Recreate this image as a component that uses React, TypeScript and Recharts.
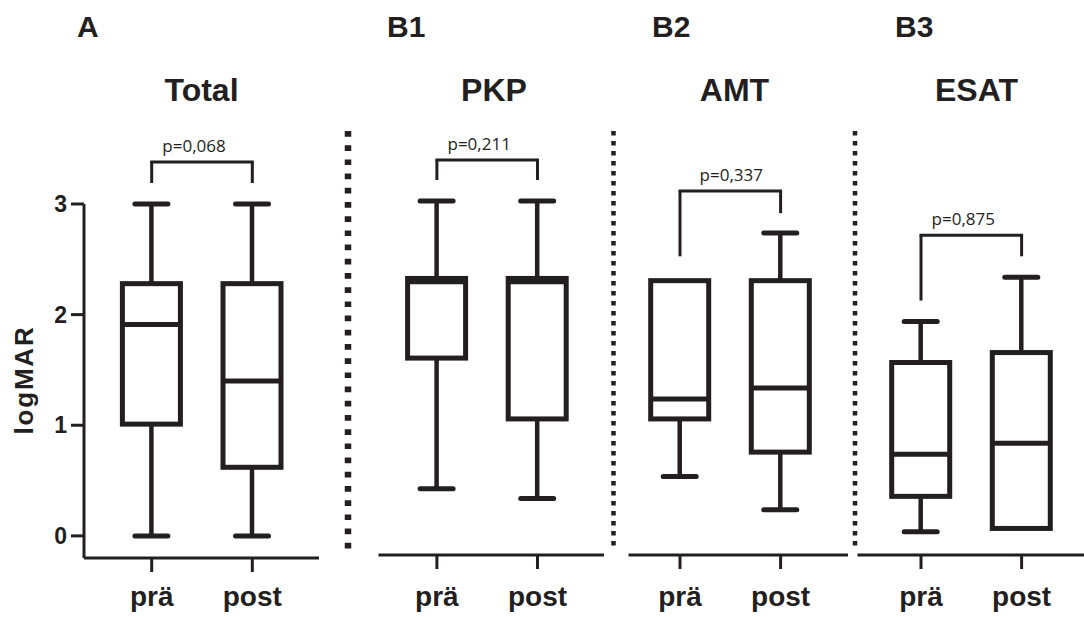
import { Bar, BarChart, ReferenceLine, XAxis, YAxis } from "recharts";

const INK = "#231f20";
const FONT = "'Liberation Sans', Arial, Helvetica, sans-serif";
const P_FONT = "'Open Sans', 'Noto Sans', sans-serif";

const categories = ["prä", "post"];
// five-number summaries per group: min, q1, median, q3, max (logMAR)
const totalPra = [0, 1.01, 1.91, 2.28, 3.0];
const totalPost = [0, 0.62, 1.4, 2.28, 3.0];
const pkpPra = [0.4, 1.58, 2.27, 2.3, 3.0];
const pkpPost = [0.31, 1.03, 2.27, 2.3, 3.0];
const amtPra = [0.51, 1.03, 1.21, 2.28, 2.28];
const amtPost = [0.21, 0.73, 1.31, 2.28, 2.71];
const esatPra = [0.01, 0.33, 0.71, 1.54, 1.91];
const esatPost = [0.04, 0.04, 0.81, 1.63, 2.31];

const panelLetters = ["A", "B1", "B2", "B3"];
const panelTitles = ["Total", "PKP", "AMT", "ESAT"];
const pValues = ["p=0,068", "p=0,211", "p=0,337", "p=0,875"];
const bracketTop = [3.38, 3.37, 3.09, 2.69];
const bracketPraEnd = [3.19, 3.19, 2.5, 2.1];
const bracketPostEnd = [3.19, 3.19, 2.89, 2.5];
const yTicks = [0, 1, 2, 3];
const Y_DOMAIN: [number, number] = [-0.2, 3];

const panelStats = [
  [totalPra, totalPost],
  [pkpPra, pkpPost],
  [amtPra, amtPost],
  [esatPra, esatPost],
];

// placement of each small chart on the page
const LAYOUT = [
  { left: 0, width: 330, top: 204, axisH: 59, mLeft: 0, mRight: 11, padL: 17.4, padR: 16.4, tickMargin: 14, showY: true, letterX: 77, titleX: 201.5, pDx: -8 },
  { left: 360, width: 250, top: 201, axisH: 62, mLeft: 18.5, mRight: 6, padL: 8.1, padR: 16.2, tickMargin: 17, showY: false, letterX: 387, titleX: 494, pDx: -8 },
  { left: 615, width: 240, top: 201, axisH: 62, mLeft: 13.5, mRight: 7, padL: 1.2, padR: 17.1, tickMargin: 17, showY: false, letterX: 652, titleX: 734.5, pDx: 1 },
  { left: 850, width: 234, top: 201, axisH: 62, mLeft: 7.5, mRight: 0, padL: 13.2, padR: 12.1, tickMargin: 17, showY: false, letterX: 895, titleX: 976.5, pDx: -8 },
];

const CHART_H = 617;
const BOX_W = 58;
const CAP_HALF = 16.5;

function BoxShape(props: any) {
  const { x, y, width, height, payload } = props;
  const [lo, q1, med, q3, hi] = payload.stats as number[];
  const k = height / (hi - lo);
  const py = (v: number) => y + (hi - v) * k;
  const cx = x + width / 2;
  return (
    <g>
      {hi > q3 && <line x1={cx} x2={cx} y1={py(hi)} y2={py(q3)} stroke={INK} strokeWidth={4.5} />}
      {lo < q1 && <line x1={cx} x2={cx} y1={py(q1)} y2={py(lo)} stroke={INK} strokeWidth={4.5} />}
      <rect x={x} y={py(q3)} width={width} height={py(q1) - py(q3)} fill="#fff" stroke={INK} strokeWidth={5} />
      <line x1={x} x2={x + width} y1={py(med)} y2={py(med)} stroke={INK} strokeWidth={5} />
      {hi > q3 && (
        <line x1={cx - CAP_HALF} x2={cx + CAP_HALF} y1={py(hi)} y2={py(hi)} stroke={INK} strokeWidth={5} strokeLinecap="round" />
      )}
      {lo < q1 && (
        <line x1={cx - CAP_HALF} x2={cx + CAP_HALF} y1={py(lo)} y2={py(lo)} stroke={INK} strokeWidth={5} strokeLinecap="round" />
      )}
    </g>
  );
}

function Panel({ index }: { index: number }) {
  const L = LAYOUT[index];
  const data = categories.map((name, i) => ({ name, stats: panelStats[index][i] }));
  const [pre, post] = categories;
  return (
    <div style={{ position: "absolute", left: L.left, top: 0 }}>
      <BarChart
        width={L.width}
        height={CHART_H}
        data={data}
        margin={{ top: L.top, right: L.mRight, bottom: 0, left: L.mLeft }}
        barSize={BOX_W}
      >
        <XAxis
          dataKey="name"
          height={L.axisH}
          padding={{ left: L.padL, right: L.padR }}
          interval={0}
          axisLine={{ stroke: INK, strokeWidth: 3 }}
          tickLine={{ stroke: INK, strokeWidth: 3 }}
          tickSize={14}
          tickMargin={L.tickMargin}
          tick={{ fill: INK, fontSize: 28, fontWeight: 700, fontFamily: FONT }}
        />
        <YAxis
          type="number"
          domain={Y_DOMAIN}
          ticks={yTicks}
          interval={0}
          hide={!L.showY}
          width={84}
          axisLine={{ stroke: INK, strokeWidth: 3 }}
          tickLine={{ stroke: INK, strokeWidth: 3 }}
          tickSize={13}
          tickMargin={4}
          tick={{ fill: INK, fontSize: 23, fontWeight: 700, fontFamily: FONT }}
        />
        <Bar dataKey={(d: any) => [d.stats[0], d.stats[4]]} shape={BoxShape} isAnimationActive={false} />
        <ReferenceLine
          segment={[{ x: pre, y: bracketTop[index] }, { x: post, y: bracketTop[index] }]}
          stroke={INK}
          strokeWidth={3}
          strokeLinecap="square"
          ifOverflow="visible"
          label={{ value: pValues[index], position: "top", offset: 10, dx: L.pDx, fill: INK, fontSize: 17, fontFamily: P_FONT }}
        />
        <ReferenceLine
          segment={[{ x: pre, y: bracketTop[index] }, { x: pre, y: bracketPraEnd[index] }]}
          stroke={INK}
          strokeWidth={3}
          ifOverflow="visible"
        />
        <ReferenceLine
          segment={[{ x: post, y: bracketTop[index] }, { x: post, y: bracketPostEnd[index] }]}
          stroke={INK}
          strokeWidth={3}
          ifOverflow="visible"
        />
      </BarChart>
    </div>
  );
}

export default function App() {
  return (
    <div style={{ position: "absolute", left: 0, top: 0, width: 1084, height: 617, background: "#fff" }}>
      {LAYOUT.map((_, i) => (
        <Panel key={i} index={i} />
      ))}
      <svg width={1084} height={617} style={{ position: "absolute", left: 0, top: 0, pointerEvents: "none" }}>
        {LAYOUT.map((L, i) => (
          <g key={i} fill={INK} fontFamily={FONT} fontWeight={700}>
            <text x={L.letterX} y={37} fontSize={30}>
              {panelLetters[i]}
            </text>
            <text x={L.titleX} y={101} fontSize={32} textAnchor="middle">
              {panelTitles[i]}
            </text>
          </g>
        ))}
        <text
          transform="translate(33,380) rotate(-90)"
          textAnchor="middle"
          fill={INK}
          fontFamily={FONT}
          fontWeight={700}
          fontSize={26}
          style={{ letterSpacing: 1.8 }}
        >
          logMAR
        </text>
        <line x1={348} x2={348} y1={131} y2={551} stroke={INK} strokeWidth={6.5} strokeDasharray="5.7 8.5" />
        <line x1={613.5} x2={613.5} y1={131} y2={547} stroke={INK} strokeWidth={4.5} strokeDasharray="4.5 5.5" />
        <line x1={855} x2={855} y1={131} y2={547} stroke={INK} strokeWidth={4.5} strokeDasharray="4.5 5.5" />
      </svg>
    </div>
  );
}
